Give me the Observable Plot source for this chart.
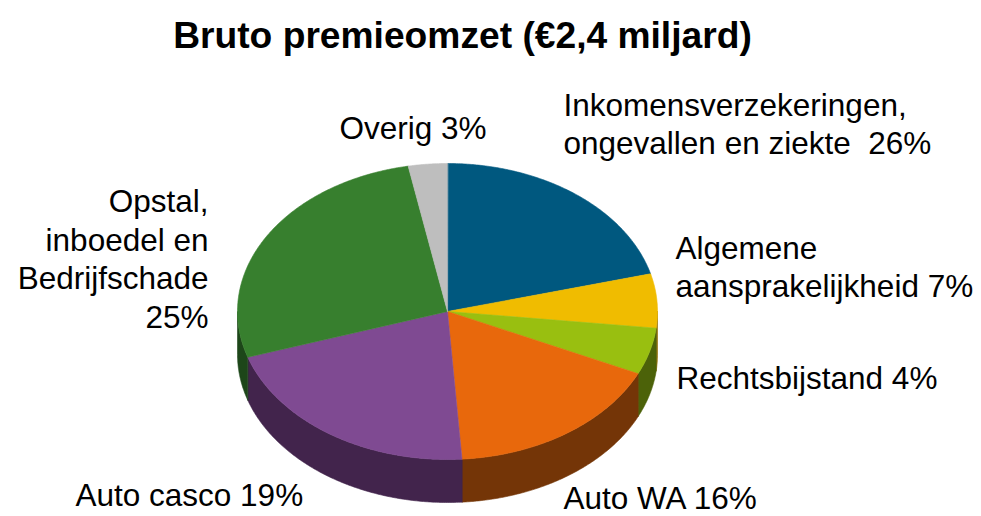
<!DOCTYPE html>
<html>
<head>
<meta charset="utf-8">
<script src="https://cdn.jsdelivr.net/npm/d3@7"></script>
<script src="https://cdn.jsdelivr.net/npm/@observablehq/plot@0.6"></script>
<style>
  html, body { margin: 0; padding: 0; background: #ffffff; }
  body { font-family: "Liberation Sans", Arial, sans-serif; width: 981px; }
  #title {
    box-sizing: border-box;
    width: 925px; height: 66px; padding-top: 4px;
    line-height: 62px; font-size: 37.2px; font-weight: bold;
    text-align: center; color: #000; white-space: nowrap;
  }
  #chart svg text { white-space: pre; }
</style>
</head>
<body>
<div id="title">Bruto premieomzet (€2,4 miljard)</div>
<div id="chart"></div>
<script>
// ---- data ----
const categories = [
  "Inkomensverzekeringen, ongevallen en ziekte",
  "Algemene aansprakelijkheid",
  "Rechtsbijstand",
  "Auto WA",
  "Auto casco",
  "Opstal, inboedel en Bedrijfschade",
  "Overig"
];
// percentages as printed in the labels
const labelPercent = [26, 7, 4, 16, 19, 25, 3];
// slice sizes as drawn in the picture (share of the full turn, %)
const sliceShare = [20.9, 5.9, 5.1, 17.0, 21.1, 27.0, 3.0];
// label wording (line breaks as in the picture)
const labelLines = [
  p => `Inkomensverzekeringen,\nongevallen en ziekte  ${p}%`,
  p => `Algemene\naansprakelijkheid ${p}%`,
  p => `Rechtsbijstand ${p}%`,
  p => `Auto WA ${p}%`,
  p => `Auto casco ${p}%`,
  p => `Opstal,\ninboedel en\nBedrijfschade\n${p}%`,
  p => `Overig ${p}%`
];

// ---- styles / layout ----
const topColors  = ["#00587f", "#f0bc00", "#99bf10", "#e8680c", "#7f4a92", "#377f2e", "#bebebe"];
const sideColors = ["#003a55", "#8f6b00", "#4c6209", "#743507", "#42244c", "#1d4619", "#7a7a7a"];
const pie = {cx: 447, cy: 311, rx: 210, ry: 148, depth: 43};
const svgTop = 66, svgHeight = 450;
// baseline of the last line of each label, and text anchor
const labelAnchor = [
  {x: 563, y: 153, a: "start"},
  {x: 675, y: 296, a: "start"},
  {x: 676, y: 388, a: "start"},
  {x: 563, y: 508, a: "start"},
  {x: 75,  y: 505, a: "start"},
  {x: 208, y: 327, a: "end"},
  {x: 339, y: 138, a: "start"}
];

// ---- geometry from data ----
const total = d3.sum(sliceShare);
let acc = 0;
const slices = sliceShare.map((v, i) => {
  const a0 = acc / total * 360; acc += v;
  return {i, a0, a1: acc / total * 360};
});
const pt = (deg, dy = 0) => {
  const t = deg * Math.PI / 180;
  return {x: pie.cx + pie.rx * Math.sin(t), y: pie.cy - pie.ry * Math.cos(t) + dy};
};
const arc = (a0, a1, dy) => {
  const n = Math.max(2, Math.ceil((a1 - a0) / 0.5));
  return d3.range(n + 1).map(k => pt(a0 + (a1 - a0) * k / n, dy));
};

const sideRows = [];
const topRows = [];
slices.forEach(s => {
  const s0 = Math.max(s.a0, 90), s1 = Math.min(s.a1, 270);
  if (s1 > s0) {
    const poly = [...arc(s0, s1, 0), ...arc(s0, s1, pie.depth).reverse()];
    poly.forEach(p => sideRows.push({key: "side" + s.i, x: p.x, y: p.y, fill: sideColors[s.i]}));
  }
  const poly = [{x: pie.cx, y: pie.cy}, ...arc(s.a0, s.a1, 0)];
  poly.forEach(p => topRows.push({key: "top" + s.i, x: p.x, y: p.y, fill: topColors[s.i]}));
});

const labels = categories.map((c, i) => ({
  name: c,
  text: labelLines[i](labelPercent[i]),
  x: labelAnchor[i].x, y: labelAnchor[i].y, anchor: labelAnchor[i].a
}));

const chart = Plot.plot({
  width: 981,
  height: svgHeight,
  margin: 0,
  x: {domain: [0, 981], range: [0, 981], axis: null},
  y: {domain: [svgTop, svgTop + svgHeight], range: [0, svgHeight], axis: null},
  color: {type: "identity"},
  style: {fontFamily: '"Liberation Sans", Arial, sans-serif', background: "#ffffff", overflow: "visible"},
  marks: [
    Plot.line(sideRows, {x: "x", y: "y", z: "key", fill: "fill", stroke: "fill", strokeWidth: 0.6, curve: "linear-closed"}),
    Plot.line(topRows, {x: "x", y: "y", z: "key", fill: "fill", stroke: "fill", strokeWidth: 0.6, curve: "linear-closed"}),
    Plot.text(labels.filter(d => d.anchor === "start"), {
      x: "x", y: "y", text: "text", textAnchor: "start", lineAnchor: "bottom",
      lineHeight: 1.18, fontSize: 31.5, fill: "#000000"
    }),
    Plot.text(labels.filter(d => d.anchor === "end"), {
      x: "x", y: "y", text: "text", textAnchor: "end", lineAnchor: "bottom",
      lineHeight: 1.22, fontSize: 31.5, fill: "#000000"
    })
  ]
});
document.getElementById("chart").appendChild(chart);
</script>
</body>
</html>
